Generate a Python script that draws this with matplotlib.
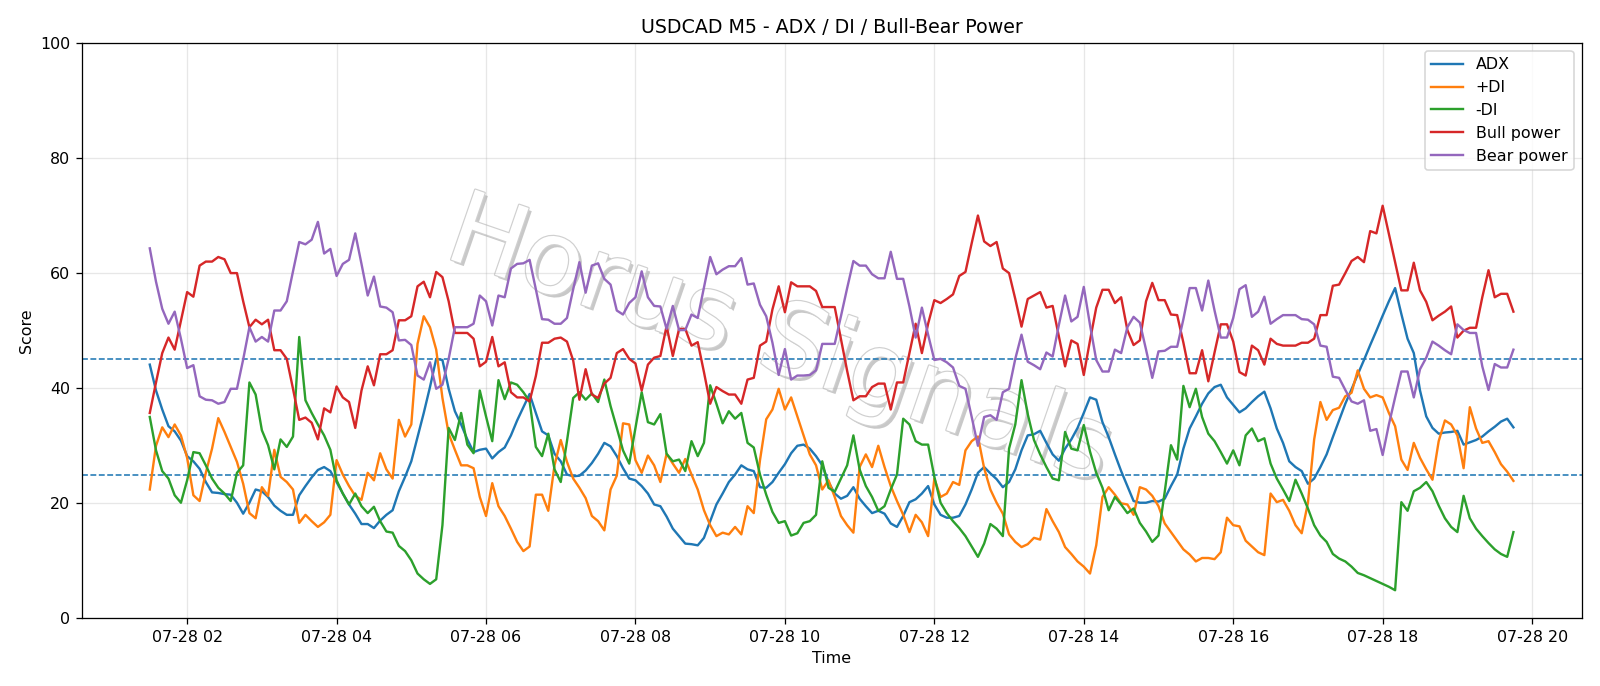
import numpy as np
import pandas as pd
import matplotlib
matplotlib.use("Agg")
import matplotlib.pyplot as plt
import matplotlib.dates as mdates
import matplotlib.patheffects as pe

start_time = "2025-07-28 01:30"
n_bars = 220

adx = [44.1, 39.6, 36.3, 33.4, 32.5, 30.9, 28.2, 27.3, 26.0, 23.7, 21.9, 21.8, 21.6, 21.5, 20.1, 18.2, 20.1, 22.4, 22.1, 21.1,
       19.6, 18.7, 18.0, 18.0, 21.4, 23.0, 24.5, 25.8, 26.3, 25.6, 23.7, 21.7, 19.8, 18.2, 16.4, 16.4, 15.7, 17.0, 18.0, 18.8,
       22.1, 24.6, 27.3, 31.5, 35.7, 40.2, 45.1, 44.9, 39.9, 36.0, 33.7, 31.1, 28.9, 29.3, 29.5, 27.8, 28.9, 29.7, 31.8, 34.4,
       36.7, 39.0, 35.7, 32.5, 31.8, 28.6, 27.3, 25.0, 24.7, 24.8, 25.7, 27.0, 28.6, 30.5, 29.9, 28.2, 26.1, 24.3, 24.0, 23.0,
       21.7, 19.8, 19.5, 17.7, 15.6, 14.3, 13.0, 12.9, 12.7, 14.0, 16.9, 19.8, 21.7, 23.7, 25.0, 26.6, 25.9, 25.6, 22.8, 22.7,
       23.7, 25.3, 26.8, 28.7, 30.0, 30.2, 29.5, 28.2, 26.6, 23.7, 21.7, 20.8, 21.3, 22.8, 20.8, 19.5, 18.3, 18.7, 18.2, 16.5,
       15.9, 17.8, 20.2, 20.7, 21.7, 23.0, 19.8, 18.0, 17.5, 17.5, 17.8, 19.8, 22.4, 25.3, 26.3, 25.2, 24.2, 22.8, 23.7, 25.9,
       29.2, 31.8, 32.0, 32.6, 30.5, 28.5, 27.4, 29.5, 31.1, 33.1, 35.7, 38.4, 38.0, 34.1, 31.5, 28.5, 25.6, 23.0, 20.4, 20.1,
       20.1, 20.4, 20.3, 20.8, 23.0, 25.0, 29.5, 33.0, 35.1, 37.3, 39.1, 40.2, 40.6, 38.4, 37.1, 35.8, 36.5, 37.6, 38.6, 39.4,
       36.5, 33.0, 30.5, 27.3, 26.3, 25.6, 23.4, 24.3, 26.3, 28.5, 31.5, 34.4, 37.3, 39.8, 42.4, 44.9, 47.5, 50.0, 52.6, 55.1,
       57.4, 52.9, 48.6, 46.1, 39.6, 35.1, 33.1, 32.1, 32.3, 32.4, 32.6, 30.2, 30.6, 31.0, 31.6, 32.5, 33.3, 34.2, 34.7, 33.2]

plus_di = [22.4, 30.0, 33.2, 31.5, 33.7, 31.8, 27.9, 21.4, 20.4, 25.3, 29.5, 34.8, 32.4, 29.8, 27.2, 23.4, 18.3, 17.4, 22.8, 21.3,
           29.3, 24.6, 23.7, 22.4, 16.6, 18.0, 16.9, 15.9, 16.7, 18.0, 27.5, 25.0, 23.0, 21.3, 20.6, 25.3, 24.0, 28.7, 25.9, 24.3,
           34.5, 31.6, 33.7, 47.7, 52.5, 50.6, 46.7, 38.3, 32.1, 29.3, 26.6, 26.6, 26.1, 21.1, 17.8, 23.5, 19.5, 17.8, 15.6, 13.3,
           11.7, 12.5, 21.5, 21.5, 18.7, 26.6, 31.0, 27.2, 24.3, 22.7, 20.9, 17.8, 16.9, 15.3, 22.4, 24.8, 33.9, 33.7, 27.5, 25.3,
           28.3, 26.6, 23.7, 28.6, 26.9, 25.3, 27.7, 25.0, 22.4, 18.8, 16.2, 14.3, 14.9, 14.6, 15.9, 14.6, 19.5, 18.3, 27.5, 34.6,
           36.3, 39.9, 36.3, 38.4, 35.1, 31.8, 28.5, 26.6, 22.4, 24.0, 21.1, 17.8, 16.2, 14.9, 26.3, 28.5, 26.3, 30.0, 26.3, 23.0,
           20.4, 18.0, 15.0, 18.0, 16.7, 14.3, 24.3, 21.1, 21.7, 23.7, 23.2, 29.2, 30.8, 31.6, 26.1, 22.4, 20.1, 18.2, 14.6, 13.3,
           12.4, 12.9, 14.0, 13.7, 19.0, 16.9, 15.0, 12.4, 11.2, 9.9, 9.0, 7.8, 12.7, 21.1, 22.8, 21.5, 20.0, 19.8, 18.0, 22.8,
           22.4, 21.3, 19.5, 16.5, 15.0, 13.5, 12.0, 11.1, 9.9, 10.5, 10.5, 10.3, 11.5, 17.5, 16.2, 16.0, 13.5, 12.5, 11.5, 11.0,
           21.7, 20.2, 20.6, 18.7, 16.2, 14.8, 20.1, 31.1, 37.6, 34.5, 36.2, 36.6, 38.6, 39.2, 43.1, 39.9, 38.4, 38.8, 38.4, 35.7,
           33.4, 27.6, 25.8, 30.5, 27.9, 25.9, 24.1, 30.8, 34.4, 33.7, 31.8, 26.1, 36.7, 33.0, 30.5, 30.8, 28.9, 26.8, 25.5, 23.9]

minus_di = [35.0, 29.2, 25.6, 24.3, 21.4, 20.1, 24.0, 28.9, 28.7, 26.6, 24.3, 22.7, 21.7, 20.4, 25.3, 26.6, 41.0, 38.9, 32.7, 30.1,
            25.9, 31.1, 29.8, 31.6, 48.9, 37.9, 35.7, 33.7, 31.8, 29.3, 24.0, 21.7, 19.8, 21.7, 19.5, 18.3, 19.4, 16.9, 15.1, 14.9,
            12.6, 11.7, 10.1, 7.8, 6.8, 6.0, 6.8, 16.2, 33.1, 31.0, 35.7, 30.2, 28.7, 39.6, 35.1, 30.8, 41.4, 38.1, 41.0, 40.6,
            39.3, 37.7, 29.8, 28.2, 32.1, 25.9, 23.7, 30.8, 38.3, 39.3, 38.0, 39.1, 37.6, 41.5, 36.9, 33.1, 29.2, 26.9, 33.1, 39.3,
            34.1, 33.7, 35.5, 28.6, 27.3, 27.6, 25.6, 30.8, 28.2, 30.5, 40.5, 37.3, 33.9, 36.0, 34.7, 35.7, 30.5, 29.7, 25.0, 21.5,
            18.5, 16.6, 16.9, 14.4, 14.8, 16.6, 16.9, 18.0, 27.3, 22.7, 22.0, 24.3, 26.6, 31.8, 25.9, 23.0, 21.1, 18.7, 19.5, 22.4,
            25.0, 34.7, 33.7, 30.8, 30.2, 30.2, 24.6, 20.1, 18.3, 16.9, 15.7, 14.3, 12.5, 10.7, 13.0, 16.4, 15.6, 14.3, 29.5, 33.7,
            41.4, 35.5, 31.0, 28.5, 26.3, 24.3, 24.0, 32.4, 29.5, 29.2, 33.6, 29.0, 25.3, 22.7, 18.8, 21.1, 19.8, 18.3, 19.1, 16.6,
            15.1, 13.3, 14.4, 22.0, 30.1, 27.6, 40.4, 36.7, 39.9, 35.0, 32.1, 30.8, 28.9, 26.9, 29.2, 26.6, 31.8, 33.0, 30.8, 31.3,
            26.9, 24.3, 22.4, 20.4, 24.1, 21.7, 19.1, 16.2, 14.4, 13.3, 11.2, 10.4, 9.9, 9.0, 7.9, 7.5, 7.0, 6.5, 6.0, 5.5,
            4.9, 20.2, 18.7, 22.1, 22.7, 23.7, 22.1, 19.6, 17.4, 15.9, 15.0, 21.3, 17.4, 15.6, 14.3, 13.1, 12.0, 11.2, 10.7, 15.0]

bull_power = [35.7, 41.0, 46.1, 48.8, 46.7, 51.7, 56.7, 55.9, 61.3, 62.0, 62.0, 62.8, 62.4, 60.0, 60.0, 55.1, 50.6, 51.9, 51.1, 51.9,
              46.6, 46.6, 45.1, 39.9, 34.5, 34.9, 34.0, 31.1, 36.5, 35.8, 40.3, 38.4, 37.6, 33.1, 39.6, 43.8, 40.5, 45.9, 45.9, 46.6,
              51.8, 51.8, 52.5, 57.7, 58.5, 55.8, 60.2, 59.3, 55.1, 49.6, 49.6, 49.6, 48.6, 43.8, 44.6, 48.9, 43.8, 44.5, 39.3, 38.4,
              38.4, 37.7, 42.1, 47.9, 47.9, 48.6, 48.8, 48.1, 44.8, 38.0, 43.3, 38.9, 38.3, 40.8, 41.8, 46.1, 46.8, 45.1, 44.3, 39.6,
              44.1, 45.3, 45.6, 50.8, 45.6, 50.3, 50.3, 47.4, 48.0, 42.8, 37.3, 40.2, 39.5, 38.9, 38.9, 37.3, 41.5, 41.8, 47.4, 48.1,
              53.7, 57.7, 53.2, 58.4, 57.7, 57.7, 57.7, 56.9, 54.1, 54.1, 54.1, 48.5, 43.0, 37.9, 38.6, 38.6, 40.2, 40.8, 40.8, 36.3,
              41.0, 41.0, 46.1, 51.2, 46.1, 51.2, 55.3, 54.8, 55.5, 56.3, 59.5, 60.2, 65.2, 70.0, 65.5, 64.7, 65.4, 60.8, 60.0, 55.5,
              50.7, 55.5, 56.1, 56.7, 54.0, 54.3, 49.0, 43.8, 48.3, 47.7, 42.3, 48.3, 54.0, 57.1, 57.1, 54.8, 55.8, 50.1, 47.5, 48.3,
              55.1, 58.3, 55.3, 55.3, 52.8, 52.7, 47.9, 42.6, 42.6, 46.6, 41.2, 46.2, 51.1, 51.1, 48.1, 42.8, 42.2, 47.4, 46.6, 44.1,
              48.6, 47.7, 47.4, 47.4, 47.4, 47.9, 47.9, 48.6, 52.7, 52.7, 57.8, 58.0, 60.0, 62.1, 62.8, 61.9, 67.3, 66.9, 71.7, 66.8,
              61.9, 57.0, 57.0, 61.8, 57.0, 55.0, 51.8, 52.6, 53.3, 54.2, 48.8, 50.0, 50.5, 50.5, 55.8, 60.5, 55.8, 56.4, 56.4, 53.3]

bear_power = [64.3, 58.5, 53.8, 51.2, 53.3, 48.6, 43.5, 44.0, 38.6, 38.0, 37.9, 37.3, 37.6, 39.9, 39.9, 45.0, 50.6, 48.1, 48.9, 48.1,
              53.5, 53.5, 55.1, 60.3, 65.4, 65.0, 65.8, 68.9, 63.4, 64.2, 59.5, 61.6, 62.3, 66.9, 61.6, 56.1, 59.4, 54.2, 54.0, 53.2,
              48.3, 48.4, 47.5, 42.2, 41.5, 44.5, 39.9, 40.6, 45.1, 50.6, 50.6, 50.6, 51.2, 56.1, 55.1, 50.9, 56.1, 55.8, 60.8, 61.6,
              61.7, 62.3, 57.2, 52.0, 51.9, 51.2, 51.2, 52.2, 57.2, 61.9, 56.6, 61.3, 61.7, 59.0, 58.0, 53.5, 52.8, 54.8, 55.8, 60.3,
              55.8, 54.3, 54.2, 50.3, 54.3, 50.1, 50.1, 52.8, 52.2, 57.5, 62.8, 59.8, 60.6, 61.2, 61.2, 62.6, 58.0, 58.2, 54.5, 52.5,
              47.9, 42.3, 46.8, 41.5, 42.2, 42.2, 42.3, 43.1, 47.7, 47.7, 47.7, 52.5, 57.4, 62.1, 61.3, 61.3, 59.8, 59.1, 59.1, 63.7,
              59.0, 59.0, 54.2, 48.8, 54.0, 49.3, 44.9, 45.1, 44.5, 43.6, 40.4, 39.9, 35.0, 30.0, 35.0, 35.3, 34.5, 39.3, 39.9, 45.1,
              49.3, 44.6, 44.0, 43.3, 46.2, 45.5, 51.0, 56.1, 51.6, 52.4, 57.6, 51.0, 44.9, 42.9, 42.9, 46.7, 46.1, 50.6, 52.4, 51.4,
              46.7, 41.8, 46.4, 46.5, 47.2, 47.2, 52.0, 57.4, 57.4, 53.5, 58.7, 53.5, 48.8, 48.8, 52.2, 57.2, 57.9, 52.4, 53.3, 55.9,
              51.2, 52.0, 52.7, 52.7, 52.7, 52.0, 51.9, 51.1, 47.4, 47.2, 42.0, 41.8, 39.7, 37.7, 37.3, 37.9, 32.6, 32.9, 28.4, 33.7,
              38.4, 42.9, 42.9, 38.4, 43.3, 45.3, 48.1, 47.4, 46.6, 45.9, 51.1, 50.1, 49.6, 49.6, 43.8, 39.7, 44.2, 43.6, 43.6, 46.7]

threshold_levels = [25, 45]
series_labels = ["ADX", "+DI", "-DI", "Bull power", "Bear power"]
title_text = "USDCAD M5 - ADX / DI / Bull-Bear Power"
watermark_text = "Horus Signals"

times = pd.date_range(start_time, periods=n_bars, freq="5min")

DPI = 1600 / 14.0
fig = plt.figure(figsize=(14, 686 / DPI), dpi=DPI)
ax = fig.add_axes([0.051, 0.0985, 0.9375, 0.839])

series = [adx, plus_di, minus_di, bull_power, bear_power]
colors = ["#1f77b4", "#ff7f0e", "#2ca02c", "#d62728", "#9467bd"]
for vals, lab, col in zip(series, series_labels, colors):
    ax.plot(times, vals, color=col, lw=1.5, label=lab, zorder=3)

for lvl in threshold_levels:
    ax.axhline(lvl, color="#1f77b4", ls="--", lw=1.0, zorder=2)

ax.set_ylim(0, 100)
ax.xaxis.set_major_locator(mdates.HourLocator(byhour=range(0, 24, 2)))
ax.xaxis.set_major_formatter(mdates.DateFormatter("%m-%d %H"))
ax.grid(True, color="#b0b0b0", alpha=0.3, lw=0.8)
ax.set_title(title_text, fontsize=12)
ax.set_xlabel("Time")
ax.set_ylabel("Score")
ax.legend(loc="upper right")

ax.text(0.487, 0.50, watermark_text, transform=fig.transFigure, fontsize=64,
        color="white", rotation=-19, ha="center", va="center", zorder=1,
        path_effects=[pe.withSimplePatchShadow(offset=(2, -2), shadow_rgbFace="#bbbbbb", alpha=0.8),
                      pe.withStroke(linewidth=1.5, foreground="#d0d0d0")])

fig.savefig("out.png", dpi=DPI)
